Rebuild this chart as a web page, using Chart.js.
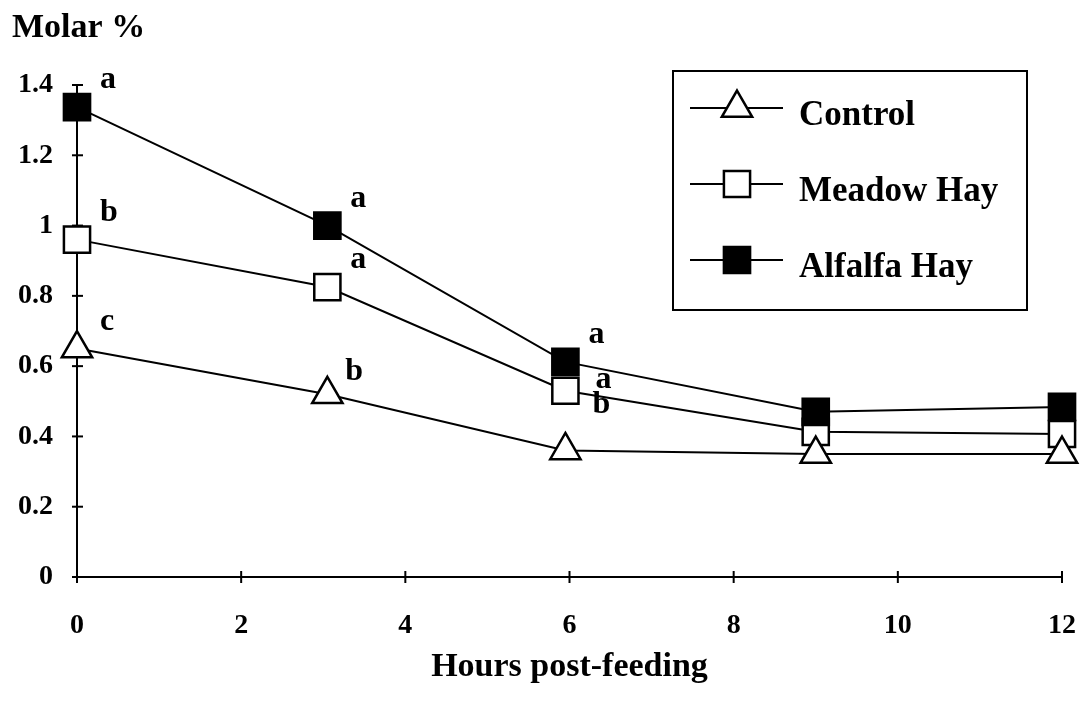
<!DOCTYPE html>
<html>
<head>
<meta charset="utf-8">
<script src="https://cdn.jsdelivr.net/npm/chart.js@4.4.1/dist/chart.umd.min.js"></script>
<style>
  html, body { margin: 0; padding: 0; background: #fff; }
  #wrap { width: 1083px; height: 707px; position: relative; }
</style>
</head>
<body>
<div id="wrap"><canvas id="grafico"></canvas></div>
<script>
// valores
const hours = [0, 3.05, 5.95, 9, 12];
const control = [0.65, 0.52, 0.36, 0.35, 0.35];
const meadowHay = [0.96, 0.825, 0.53, 0.413, 0.407];
const alfalfaHay = [1.337, 1.0, 0.612, 0.47, 0.484];

const lettersControl = ['c', 'b', 'b', '', ''];
const lettersMeadow = ['b', 'a', 'a', '', ''];
const lettersAlfalfa = ['a', 'a', 'a', '', ''];

const yTickLabels = ['0', '0.2', '0.4', '0.6', '0.8', '1', '1.2', '1.4'];
const xTickLabels = ['0', '2', '4', '6', '8', '10', '12'];

const serif = "'Liberation Serif', 'Times New Roman', serif";

function puntos(vals) {
    return hours.map((h, i) => ({ x: h, y: vals[i] }));
}

// pequeños ajustes de posicion de las letras (dataset-indice)
const letterNudge = { '0-1': [-5, 5], '0-2': [4, -18], '1-2': [7, 16] };
const letterSets = [lettersControl, lettersMeadow, lettersAlfalfa];

const extras = {
    id: 'extras',
    afterDraw(chart) {
        const ctx = chart.ctx;
        const xs = chart.scales.x, ys = chart.scales.y;
        const area = chart.chartArea;
        ctx.save();
        ctx.strokeStyle = '#000';
        ctx.lineWidth = 2;
        // marcas que cruzan los ejes
        ys.ticks.forEach(t => {
            const y = ys.getPixelForValue(t.value);
            ctx.beginPath();
            ctx.moveTo(area.left - 5, y);
            ctx.lineTo(area.left + 6, y);
            ctx.stroke();
        });
        xs.ticks.forEach(t => {
            const x = xs.getPixelForValue(t.value);
            ctx.beginPath();
            ctx.moveTo(x, area.bottom - 6);
            ctx.lineTo(x, area.bottom + 6);
            ctx.stroke();
        });

        // titulo del eje Y
        ctx.fillStyle = '#000';
        ctx.font = 'bold 34px ' + serif;
        ctx.textAlign = 'left';
        ctx.textBaseline = 'alphabetic';
        ctx.fillText('Molar %', 12, 37);

        // letras de significancia
        ctx.font = 'bold 32px ' + serif;
        chart.data.datasets.forEach((ds, di) => {
            const meta = chart.getDatasetMeta(di);
            meta.data.forEach((pt, i) => {
                const txt = letterSets[di][i];
                if (!txt) return;
                const n = letterNudge[di + '-' + i] || [0, 0];
                ctx.fillText(txt, pt.x + 23 + n[0], pt.y - 19 + n[1]);
            });
        });

        // leyenda con recuadro
        ctx.lineWidth = 2;
        ctx.strokeRect(673, 71, 354, 239);
        const rows = [108, 184, 260];
        chart.data.datasets.forEach((ds, di) => {
            const y = rows[di];
            ctx.beginPath();
            ctx.moveTo(690, y);
            ctx.lineTo(783, y);
            ctx.stroke();
            ctx.fillStyle = ds.pointBackgroundColor;
            ctx.strokeStyle = '#000';
            ctx.lineWidth = ds.pointBorderWidth;
            Chart.helpers.drawPoint(ctx, {
                pointStyle: ds.pointStyle,
                radius: ds.pointRadius,
                rotation: 0,
                borderWidth: ds.pointBorderWidth
            }, 737, y);
            ctx.lineWidth = 2;
            ctx.fillStyle = '#000';
            ctx.font = 'bold 35px ' + serif;
            ctx.fillText(ds.label, 799, y + 17);
        });
        ctx.restore();
    }
};

const ctx = document.getElementById('grafico').getContext('2d');
new Chart(ctx, {
    type: 'line',
    data: {
        datasets: [{
            label: 'Control',
            data: puntos(control),
            borderColor: '#000',
            borderWidth: 2,
            pointStyle: 'triangle',
            pointRadius: 17.5,
            pointBackgroundColor: '#fff',
            pointBorderColor: '#000',
            pointBorderWidth: 2.5,
            clip: false,
            order: 1
        }, {
            label: 'Meadow Hay',
            data: puntos(meadowHay),
            borderColor: '#000',
            borderWidth: 2,
            pointStyle: 'rect',
            pointRadius: 18.5,
            pointBackgroundColor: '#fff',
            pointBorderColor: '#000',
            pointBorderWidth: 2.5,
            clip: false,
            order: 2
        }, {
            label: 'Alfalfa Hay',
            data: puntos(alfalfaHay),
            borderColor: '#000',
            borderWidth: 2,
            pointStyle: 'rect',
            pointRadius: 18.5,
            pointBackgroundColor: '#000',
            pointBorderColor: '#000',
            pointBorderWidth: 2.5,
            clip: false,
            order: 0
        }]
    },
    options: {
        responsive: true,
        maintainAspectRatio: false,
        animation: false,
        layout: { padding: { top: 85, right: 17, left: 0, bottom: 0 } },
        plugins: {
            legend: { display: false },
            tooltip: { enabled: false }
        },
        elements: { line: { tension: 0 } },
        scales: {
            x: {
                type: 'linear',
                min: 0,
                max: 12,
                afterFit(scale) {
                    scale.height = 130;
                    scale.paddingLeft = 0;
                    scale.paddingRight = 0;
                },
                ticks: {
                    stepSize: 2,
                    padding: 4,
                    color: '#000',
                    font: { family: serif, size: 28, weight: 'bold' },
                    callback: (v, i) => xTickLabels[i]
                },
                grid: { display: true, drawOnChartArea: false, color: 'transparent', tickLength: 28 },
                border: { color: '#000', width: 2 },
                title: {
                    display: true,
                    text: 'Hours post-feeding',
                    color: '#000',
                    font: { family: serif, size: 34, weight: 'bold' },
                    padding: { top: 0, bottom: 19 }
                }
            },
            y: {
                min: 0,
                max: 1.4,
                afterFit(scale) { scale.width = 77; },
                ticks: {
                    stepSize: 0.2,
                    padding: 19,
                    color: '#000',
                    font: { family: serif, size: 28, weight: 'bold' },
                    callback: (v, i) => yTickLabels[i]
                },
                grid: { display: true, drawOnChartArea: false, color: 'transparent', tickLength: 5 },
                border: { color: '#000', width: 2 }
            }
        }
    },
    plugins: [extras]
});
</script>
</body>
</html>
